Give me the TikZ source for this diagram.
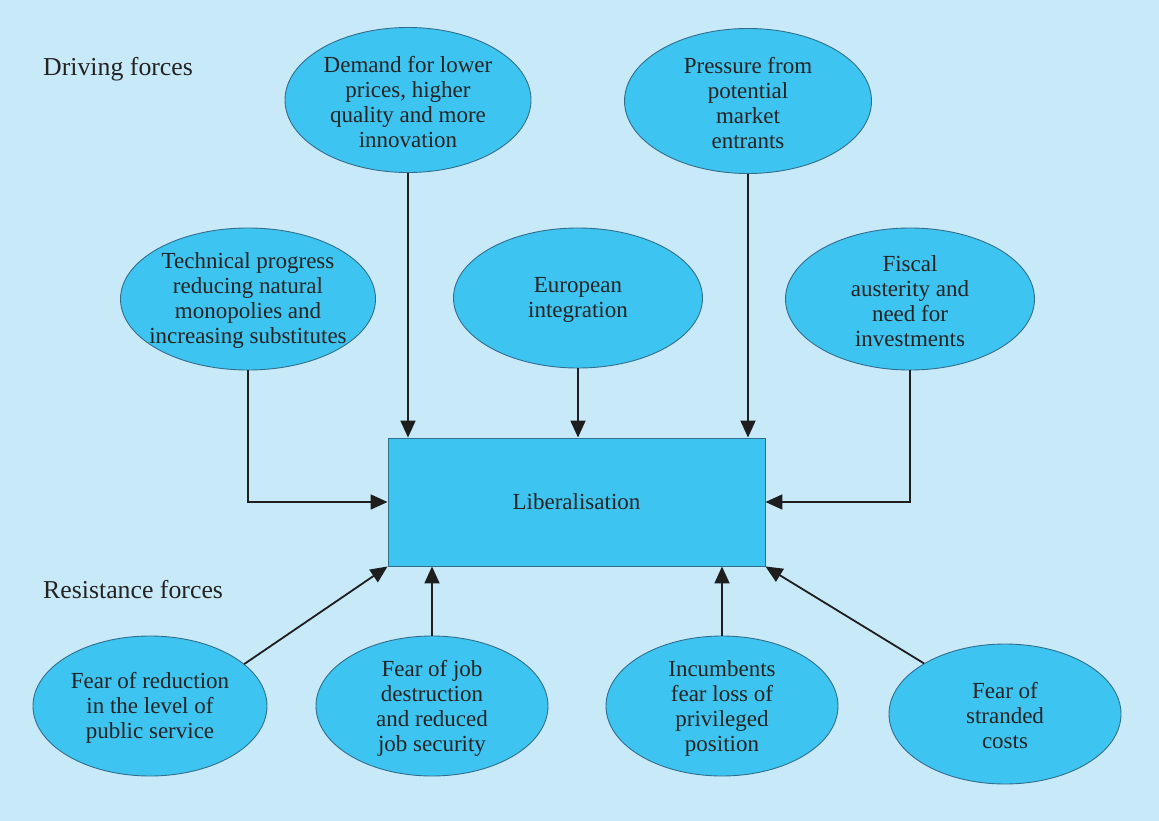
\documentclass[tikz,border=0pt]{standalone}
\usepackage{fontspec}
\setmainfont{Liberation Serif}
\usetikzlibrary{shapes.geometric,arrows.meta}
\definecolor{bg}{RGB}{200,234,248}
\definecolor{ellfill}{RGB}{62,196,240}
\definecolor{ellline}{RGB}{50,110,140}
\definecolor{txt}{RGB}{35,35,35}
\definecolor{arrc}{RGB}{30,30,30}
\begin{document}
\begin{tikzpicture}[x=1pt,y=-1pt,
  every node/.style={font=\fontsize{23}{25}\selectfont, text=txt},
  every label/.style={yshift=-2pt},
  oval/.style={ellipse, draw=ellline, line width=0.9pt, fill=ellfill, inner sep=0pt},
  txtlab/.style={font=\fontsize{25.8}{28}\selectfont, anchor=west, inner sep=0pt},
  arr/.style={draw=arrc, line width=1.8pt, -{Triangle[width=15pt,length=17pt]}}]
\fill[bg] (0,0) rectangle (1159,821);
\useasboundingbox (0,0) rectangle (1159,821);

\node[txtlab] (drv) at (43,69) {Driving forces};
\node[txtlab] (res) at (43,590) {Resistance forces};

\node[draw=ellline, line width=0.9pt, fill=ellfill, minimum width=377pt, minimum height=128pt, inner sep=0pt] (box) at (576.5,502) {\raisebox{-2pt}{Liberalisation}};

\node[oval, minimum width=246pt, minimum height=145pt, label={[align=center]center:{Demand for lower\\prices, higher\\quality and more\\innovation}}] (e1) at (408,100) {};
\node[oval, minimum width=247pt, minimum height=145pt, label={[align=center]center:{Pressure from\\potential\\market\\entrants}}] (e2) at (748,101) {};
\node[oval, minimum width=255pt, minimum height=142pt, label={[align=center]center:{Technical progress\\reducing natural\\monopolies and\\increasing substitutes}}] (e3) at (248,299) {};
\node[oval, minimum width=249pt, minimum height=140pt, label={[align=center]center:{European\\integration}}] (e4) at (578,298) {};
\node[oval, minimum width=249pt, minimum height=142pt, label={[align=center]center:{Fiscal\\austerity and\\need for\\investments}}] (e5) at (910,299) {};

\node[oval, minimum width=234pt, minimum height=140pt, label={[align=center]center:{Fear of reduction\\in the level of\\public service}}] (e6) at (150,706) {};
\node[oval, minimum width=232pt, minimum height=140pt, label={[align=center]center:{Fear of job\\destruction\\and reduced\\job security}}] (e7) at (432,706) {};
\node[oval, minimum width=232pt, minimum height=140pt, label={[align=center]center:{Incumbents\\fear loss of\\privileged\\position}}] (e8) at (722,706) {};
\node[oval, minimum width=232pt, minimum height=140pt, label={[align=center]center:{Fear of\\stranded\\costs}}] (e9) at (1005,714) {};

\draw[arr] (e1.south) -- (e1.south |- box.north);
\draw[arr] (e2.south) -- (e2.south |- box.north);
\draw[arr] (e4.south) -- (e4.south |- box.north);
\draw[arr] (e3.south) |- (box.west);
\draw[arr] (e5.south) |- (box.east);

\draw[arr] (e7.north) -- (e7.north |- box.south);
\draw[arr] (e8.north) -- (e8.north |- box.south);
\draw[arr] (e6.24) -- (box.south west);
\draw[arr] (e9.148) -- (box.south east);
\end{tikzpicture}
\end{document}
